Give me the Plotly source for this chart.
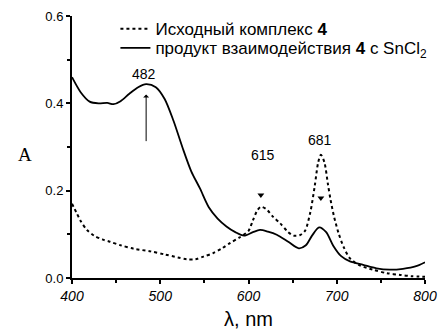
import plotly.graph_objects as go

# Complex 4 (dotted)
wl_complex = [400, 405, 410, 417, 425, 435, 443, 455, 470, 489, 505, 520, 530, 540, 549, 560, 570, 579,
              590, 600, 605, 610, 614, 620, 628, 636, 644, 651, 658, 664, 670, 675, 679, 682, 686, 690,
              693, 697, 702, 708, 715, 725, 741, 757, 772, 785, 800]
a_complex = [0.170, 0.150, 0.130, 0.110, 0.097, 0.088, 0.083, 0.075, 0.067, 0.061, 0.054, 0.047, 0.043,
             0.043, 0.049, 0.057, 0.068, 0.080, 0.093, 0.108, 0.132, 0.155, 0.163, 0.158, 0.140, 0.125,
             0.107, 0.097, 0.098, 0.108, 0.150, 0.210, 0.265, 0.282, 0.265, 0.215, 0.179, 0.140, 0.103,
             0.070, 0.045, 0.030, 0.019, 0.011, 0.007, 0.004, 0.003]

# Product of 4 with SnCl2 (solid)
wl_product = [400, 410, 420, 430, 440, 447, 455, 465, 475, 484, 495, 505, 515, 525, 535, 545, 555, 565,
              575, 585, 595, 605, 613, 622, 632, 645, 657, 665, 672, 680, 688, 696, 705, 715, 730, 745,
              760, 775, 790, 800]
a_product = [0.460, 0.425, 0.404, 0.400, 0.401, 0.398, 0.405, 0.422, 0.437, 0.444, 0.437, 0.410, 0.360,
             0.300, 0.245, 0.205, 0.162, 0.136, 0.118, 0.105, 0.097, 0.105, 0.110, 0.106, 0.099, 0.083,
             0.068, 0.075, 0.097, 0.116, 0.105, 0.074, 0.050, 0.038, 0.030, 0.022, 0.019, 0.021, 0.027,
             0.036]

# Peak labels
peak_labels = ["482", "615", "681"]
peak_label_x = [482, 616, 681]
peak_label_y = [0.468, 0.282, 0.316]
# Long arrow at 482 (tail -> head)
arrow_x = [484]
arrow_tail_y = [0.31]
arrow_head_y = [0.42]
# Small downward arrowheads
tri_x = [614, 682]
tri_y = [0.19, 0.183]

name_complex = "Исходный комплекс <b>4</b>"
name_product = "продукт взаимодействия <b>4</b> с SnCl<sub>2</sub>"

font = "Liberation Sans, Arial, sans-serif"

fig = go.Figure()
fig.add_trace(go.Scatter(x=wl_complex, y=a_complex, mode="lines", name=name_complex, legend="legend",
                         line=dict(color="black", width=2, dash="dot", shape="spline", smoothing=0.8)))
fig.add_trace(go.Scatter(x=wl_product, y=a_product, mode="lines", name=name_product, legend="legend2",
                         line=dict(color="black", width=1.8, shape="spline", smoothing=0.8)))
fig.add_trace(go.Scatter(x=tri_x, y=tri_y, mode="markers", showlegend=False,
                         marker=dict(symbol="triangle-down", size=6, color="black")))

for t, x, y in zip(peak_labels, peak_label_x, peak_label_y):
    fig.add_annotation(x=x, y=y, text=t, showarrow=False, font=dict(family=font, size=14, color="black"))

for x, yt, yh in zip(arrow_x, arrow_tail_y, arrow_head_y):
    fig.add_annotation(x=x, y=yh, ax=x, ay=yt, axref="x", ayref="y", text="", showarrow=True,
                       arrowhead=1, arrowsize=1, arrowwidth=1, arrowcolor="black")

fig.add_annotation(xref="paper", yref="paper", x=-0.16, y=0.47, text="A", showarrow=False,
                   font=dict(family="Liberation Serif, Times New Roman, serif", size=19, color="black"))

leg_common = dict(xanchor="left", yanchor="middle", bgcolor="rgba(0,0,0,0)",
                  font=dict(family=font, size=17, color="black"))

fig.update_layout(
    width=441, height=330,
    margin=dict(l=72, r=16, t=16, b=52, autoexpand=False),
    paper_bgcolor="white", plot_bgcolor="white",
    font=dict(family=font, size=14, color="black"),
    legend=dict(x=0.123, y=0.950, **leg_common),
    legend2=dict(x=0.123, y=0.877, **leg_common),
    xaxis=dict(range=[400, 800], showgrid=False, zeroline=False, showline=True, linecolor="black",
               linewidth=2, ticks="outside", ticklen=4, tickwidth=1.5, tickcolor="black", dtick=100,
               tickfont=dict(family=font, size=14, style="italic"),
               minor=dict(ticks="outside", dtick=50, ticklen=3, tickcolor="black", showgrid=False),
               title=dict(text="λ, nm", font=dict(family=font, size=20), standoff=10)),
    yaxis=dict(range=[0, 0.6], showgrid=False, zeroline=False, showline=True, linecolor="black",
               linewidth=2, ticks="outside", ticklen=4, tickwidth=1.5, tickcolor="black", dtick=0.2,
               tickformat=".1f", tickfont=dict(family=font, size=13),
               minor=dict(ticks="outside", dtick=0.1, ticklen=3, tickcolor="black", showgrid=False)),
)

fig.write_html("out.html")
